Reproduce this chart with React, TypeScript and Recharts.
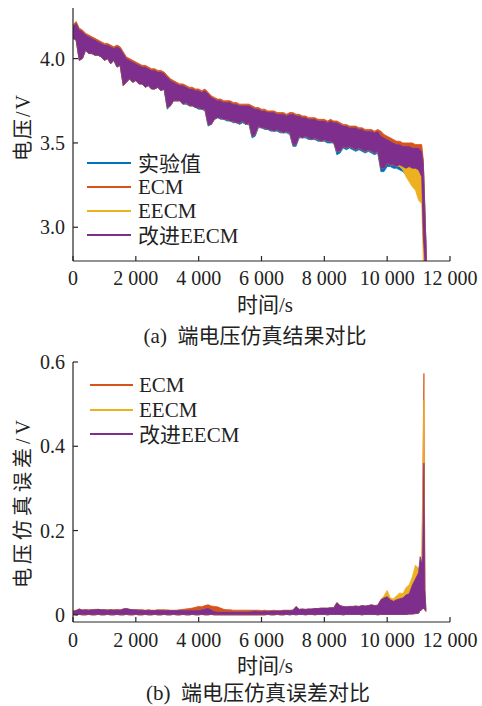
import React from 'react';
import { ComposedChart, Area, XAxis, YAxis } from 'recharts';

// time axis (s) for the terminal voltage plot
const timeS = [
  0, 100, 200, 300, 400, 500, 600, 700, 800, 900,
  1000, 1100, 1200, 1300, 1400, 1500, 1600, 1700, 1800, 1900,
  2000, 2100, 2200, 2300, 2400, 2500, 2600, 2700, 2800, 2900,
  3000, 3100, 3200, 3300, 3400, 3500, 3600, 3700, 3800, 3900,
  4000, 4100, 4200, 4300, 4400, 4500, 4600, 4700, 4800, 4900,
  5000, 5100, 5200, 5300, 5400, 5500, 5600, 5700, 5800, 5900,
  6000, 6100, 6200, 6300, 6400, 6500, 6600, 6700, 6800, 6900,
  7000, 7100, 7200, 7300, 7400, 7500, 7600, 7700, 7800, 7900,
  8000, 8100, 8200, 8300, 8400, 8500, 8600, 8700, 8800, 8900,
  9000, 9100, 9200, 9300, 9400, 9500, 9600, 9700, 9800, 9900,
  10000, 10100, 10200, 10300, 10400, 10500, 10600, 10700, 10800, 10900,
  11000, 11100, 11150, 11200, 11250,
];

// 改进EECM band (upper / lower edge), V
const ieecmHigh = [
  4.19, 4.21, 4.17, 4.16, 4.14, 4.13, 4.12, 4.11, 4.10, 4.09,
  4.08, 4.08, 4.07, 4.06, 4.07, 4.06, 4.03, 4.00, 3.99, 3.98,
  3.97, 3.96, 3.95, 3.95, 3.94, 3.93, 3.93, 3.92, 3.92, 3.91,
  3.89, 3.87, 3.86, 3.85, 3.84, 3.84, 3.83, 3.82, 3.82, 3.81,
  3.81, 3.80, 3.81, 3.79, 3.77, 3.76, 3.75, 3.75, 3.74, 3.74,
  3.74, 3.73, 3.73, 3.72, 3.72, 3.72, 3.72, 3.71, 3.70, 3.70,
  3.69, 3.69, 3.68, 3.68, 3.68, 3.67, 3.67, 3.67, 3.66, 3.67,
  3.67, 3.66, 3.66, 3.65, 3.65, 3.64, 3.64, 3.64, 3.63, 3.63,
  3.63, 3.62, 3.63, 3.62, 3.62, 3.61, 3.60, 3.60, 3.59, 3.59,
  3.59, 3.58, 3.58, 3.57, 3.57, 3.57, 3.56, 3.57, 3.54, 3.53,
  3.52, 3.51, 3.50, 3.49, 3.49, 3.48, 3.48, 3.48, 3.47, 3.47,
  3.47, 3.45, 3.38, 3.10, 2.80,
];
const ieecmLow = [
  4.12, 4.11, 3.99, 4.00, 4.05, 4.03, 4.03, 4.02, 4.02, 4.01,
  3.99, 4.00, 3.97, 3.99, 3.95, 3.96, 3.84, 3.86, 3.88, 3.86,
  3.87, 3.85, 3.85, 3.83, 3.84, 3.82, 3.82, 3.83, 3.81, 3.82,
  3.71, 3.72, 3.75, 3.75, 3.75, 3.73, 3.74, 3.72, 3.72, 3.71,
  3.71, 3.70, 3.70, 3.61, 3.61, 3.64, 3.65, 3.65, 3.64, 3.64,
  3.63, 3.63, 3.62, 3.62, 3.63, 3.61, 3.62, 3.54, 3.55, 3.60,
  3.59, 3.59, 3.58, 3.58, 3.57, 3.58, 3.57, 3.56, 3.57, 3.56,
  3.49, 3.49, 3.54, 3.53, 3.54, 3.53, 3.52, 3.53, 3.52, 3.51,
  3.52, 3.51, 3.51, 3.50, 3.45, 3.45, 3.48, 3.47, 3.48, 3.47,
  3.46, 3.47, 3.46, 3.45, 3.46, 3.45, 3.44, 3.45, 3.35, 3.35,
  3.38, 3.37, 3.37, 3.36, 3.37, 3.36, 3.35, 3.36, 3.35, 3.35,
  3.34, 3.30, 2.95, 2.80, 2.80,
];
// ECM upper edge, V
const ecmHigh = [
  4.20, 4.22, 4.18, 4.17, 4.15, 4.14, 4.13, 4.12, 4.11, 4.10,
  4.09, 4.09, 4.08, 4.07, 4.08, 4.07, 4.04, 4.01, 4.00, 3.99,
  3.98, 3.97, 3.96, 3.96, 3.95, 3.94, 3.94, 3.93, 3.93, 3.92,
  3.90, 3.88, 3.87, 3.86, 3.85, 3.85, 3.84, 3.83, 3.83, 3.82,
  3.82, 3.81, 3.82, 3.80, 3.78, 3.77, 3.76, 3.76, 3.75, 3.75,
  3.75, 3.74, 3.74, 3.73, 3.73, 3.73, 3.73, 3.72, 3.71, 3.71,
  3.70, 3.70, 3.69, 3.69, 3.69, 3.68, 3.68, 3.68, 3.67, 3.68,
  3.68, 3.67, 3.67, 3.66, 3.66, 3.65, 3.65, 3.65, 3.64, 3.64,
  3.64, 3.63, 3.64, 3.63, 3.63, 3.62, 3.61, 3.61, 3.60, 3.60,
  3.60, 3.59, 3.59, 3.58, 3.58, 3.58, 3.57, 3.58, 3.57, 3.55,
  3.54, 3.53, 3.52, 3.51, 3.51, 3.50, 3.50, 3.50, 3.50, 3.49,
  3.49, 3.49, 3.40, 3.10, 2.80,
];
// 实验值 lower edge, V
const expLow = [
  4.12, 4.11, 3.99, 4.00, 4.05, 4.03, 4.03, 4.02, 4.02, 4.01,
  3.99, 4.00, 3.97, 3.99, 3.95, 3.96, 3.84, 3.86, 3.88, 3.86,
  3.87, 3.85, 3.85, 3.83, 3.84, 3.82, 3.82, 3.83, 3.81, 3.82,
  3.70, 3.72, 3.75, 3.75, 3.75, 3.73, 3.73, 3.72, 3.72, 3.71,
  3.70, 3.70, 3.69, 3.60, 3.61, 3.64, 3.65, 3.64, 3.64, 3.63,
  3.63, 3.62, 3.62, 3.61, 3.62, 3.61, 3.61, 3.53, 3.54, 3.59,
  3.59, 3.58, 3.58, 3.57, 3.57, 3.57, 3.56, 3.56, 3.56, 3.55,
  3.48, 3.48, 3.53, 3.53, 3.53, 3.52, 3.52, 3.52, 3.51, 3.51,
  3.51, 3.50, 3.50, 3.50, 3.43, 3.44, 3.47, 3.46, 3.47, 3.46,
  3.45, 3.46, 3.45, 3.44, 3.45, 3.44, 3.43, 3.44, 3.33, 3.33,
  3.36, 3.36, 3.35, 3.35, 3.34, 3.33, 3.31, 3.30, 3.27, 3.26,
  3.23, 3.20, 3.05, 3.05, 2.80,
];
// EECM lower edge, V
const eecmLow = [
  4.12, 4.11, 3.99, 4.00, 4.05, 4.03, 4.03, 4.02, 4.02, 4.01,
  3.99, 4.00, 3.97, 3.99, 3.95, 3.96, 3.84, 3.86, 3.88, 3.86,
  3.87, 3.85, 3.85, 3.83, 3.84, 3.82, 3.82, 3.83, 3.81, 3.82,
  3.71, 3.72, 3.75, 3.75, 3.75, 3.73, 3.74, 3.72, 3.72, 3.71,
  3.71, 3.70, 3.70, 3.61, 3.61, 3.64, 3.65, 3.65, 3.64, 3.64,
  3.63, 3.63, 3.62, 3.62, 3.63, 3.61, 3.62, 3.54, 3.55, 3.60,
  3.59, 3.59, 3.58, 3.58, 3.57, 3.58, 3.57, 3.56, 3.57, 3.56,
  3.49, 3.49, 3.54, 3.53, 3.54, 3.53, 3.52, 3.53, 3.52, 3.51,
  3.52, 3.51, 3.51, 3.50, 3.45, 3.45, 3.48, 3.47, 3.48, 3.47,
  3.46, 3.47, 3.46, 3.45, 3.46, 3.45, 3.44, 3.45, 3.35, 3.35,
  3.38, 3.37, 3.37, 3.36, 3.36, 3.34, 3.30, 3.27, 3.24, 3.22,
  3.16, 3.14, 2.80, 2.80, 2.80,
];

// time axis (s) for the error plot
const errTimeS = [
  0, 100, 200, 300, 400, 500, 600, 700, 800, 900,
  1000, 1100, 1200, 1300, 1400, 1500, 1600, 1700, 1800, 1900,
  2000, 2100, 2200, 2300, 2400, 2500, 2600, 2700, 2800, 2900,
  3000, 3100, 3200, 3300, 3400, 3500, 3600, 3700, 3800, 3900,
  4000, 4100, 4200, 4300, 4400, 4500, 4600, 4700, 4800, 4900,
  5000, 5100, 5200, 5300, 5400, 5500, 5600, 5700, 5800, 5900,
  6000, 6100, 6200, 6300, 6400, 6500, 6600, 6700, 6800, 6900,
  7000, 7100, 7200, 7300, 7400, 7500, 7600, 7700, 7800, 7900,
  8000, 8100, 8200, 8300, 8400, 8500, 8600, 8700, 8800, 8900,
  9000, 9100, 9200, 9300, 9400, 9500, 9600, 9700, 9800, 9900,
  10000, 10100, 10200, 10300, 10400, 10500, 10600, 10700, 10800, 10900,
  11000, 11050, 11100, 11130, 11170, 11200, 11235,
];
const ieecmErrHigh = [
  0.008, 0.010, 0.014, 0.011, 0.012, 0.011, 0.012, 0.012, 0.013, 0.012,
  0.012, 0.011, 0.012, 0.011, 0.012, 0.011, 0.014, 0.015, 0.013, 0.012,
  0.012, 0.011, 0.011, 0.010, 0.011, 0.010, 0.010, 0.011, 0.010, 0.010,
  0.011, 0.010, 0.010, 0.010, 0.011, 0.010, 0.010, 0.011, 0.010, 0.011,
  0.011, 0.012, 0.014, 0.016, 0.012, 0.008, 0.007, 0.007, 0.007, 0.007,
  0.007, 0.007, 0.007, 0.007, 0.007, 0.007, 0.007, 0.008, 0.009, 0.008,
  0.008, 0.009, 0.008, 0.009, 0.009, 0.009, 0.009, 0.010, 0.010, 0.010,
  0.011, 0.020, 0.013, 0.014, 0.013, 0.014, 0.014, 0.015, 0.015, 0.016,
  0.016, 0.016, 0.017, 0.017, 0.029, 0.022, 0.020, 0.019, 0.020, 0.020,
  0.021, 0.020, 0.022, 0.021, 0.022, 0.024, 0.022, 0.023, 0.036, 0.040,
  0.043, 0.036, 0.032, 0.036, 0.038, 0.040, 0.047, 0.050, 0.070, 0.085,
  0.100, 0.138, 0.120, 0.140, 0.360, 0.060, 0.010,
];
const ieecmErrLow = [
  0.002, 0.000, 0.001, 0.000, 0.000, 0.001, 0.000, 0.000, 0.001, 0.000,
  0.000, 0.001, 0.000, 0.000, 0.001, 0.000, 0.000, 0.001, 0.000, 0.000,
  0.001, 0.000, 0.000, 0.001, 0.000, 0.000, 0.001, 0.000, 0.000, 0.001,
  0.000, 0.000, 0.001, 0.000, 0.000, 0.001, 0.000, 0.000, 0.001, 0.000,
  0.000, 0.001, 0.000, 0.000, 0.001, 0.000, 0.000, 0.000, 0.000, 0.000,
  0.000, 0.000, 0.000, 0.000, 0.000, 0.000, 0.000, 0.000, 0.000, 0.000,
  0.000, 0.000, 0.001, 0.000, 0.000, 0.001, 0.000, 0.000, 0.001, 0.000,
  0.001, 0.000, 0.001, 0.001, 0.000, 0.001, 0.001, 0.000, 0.001, 0.001,
  0.001, 0.000, 0.001, 0.001, 0.001, 0.001, 0.000, 0.001, 0.001, 0.001,
  0.001, 0.001, 0.000, 0.001, 0.001, 0.001, 0.001, 0.000, 0.001, 0.001,
  0.001, 0.001, 0.001, 0.001, 0.001, 0.001, 0.001, 0.002, 0.002, 0.003,
  0.004, 0.010, 0.012, 0.015, 0.015, 0.012, 0.008,
];
const ecmErrHigh = [
  0.009, 0.011, 0.013, 0.012, 0.012, 0.012, 0.012, 0.013, 0.013, 0.012,
  0.012, 0.012, 0.012, 0.012, 0.012, 0.012, 0.013, 0.014, 0.013, 0.012,
  0.012, 0.012, 0.012, 0.011, 0.012, 0.011, 0.011, 0.012, 0.012, 0.012,
  0.011, 0.011, 0.011, 0.011, 0.012, 0.013, 0.014, 0.015, 0.016, 0.018,
  0.020, 0.019, 0.022, 0.024, 0.021, 0.020, 0.019, 0.016, 0.013, 0.012,
  0.012, 0.011, 0.011, 0.011, 0.011, 0.011, 0.011, 0.011, 0.011, 0.011,
  0.010, 0.011, 0.010, 0.010, 0.011, 0.010, 0.010, 0.011, 0.011, 0.011,
  0.011, 0.012, 0.012, 0.012, 0.012, 0.013, 0.013, 0.013, 0.014, 0.014,
  0.014, 0.014, 0.015, 0.015, 0.020, 0.018, 0.016, 0.016, 0.016, 0.017,
  0.017, 0.017, 0.018, 0.018, 0.018, 0.019, 0.019, 0.019, 0.025, 0.028,
  0.030, 0.030, 0.028, 0.030, 0.031, 0.032, 0.035, 0.040, 0.050, 0.060,
  0.070, 0.080, 0.090, 0.300, 0.573, 0.060, 0.010,
];
const eecmErrHigh = [
  0.008, 0.010, 0.014, 0.011, 0.012, 0.011, 0.012, 0.012, 0.013, 0.012,
  0.012, 0.011, 0.012, 0.011, 0.012, 0.011, 0.014, 0.015, 0.013, 0.012,
  0.012, 0.011, 0.011, 0.010, 0.011, 0.010, 0.010, 0.011, 0.010, 0.010,
  0.011, 0.010, 0.010, 0.010, 0.011, 0.010, 0.010, 0.011, 0.010, 0.011,
  0.011, 0.012, 0.014, 0.016, 0.012, 0.008, 0.007, 0.007, 0.007, 0.007,
  0.007, 0.007, 0.007, 0.007, 0.007, 0.007, 0.007, 0.008, 0.009, 0.008,
  0.008, 0.009, 0.008, 0.009, 0.009, 0.009, 0.009, 0.010, 0.010, 0.010,
  0.011, 0.020, 0.013, 0.014, 0.013, 0.014, 0.014, 0.015, 0.015, 0.016,
  0.016, 0.016, 0.017, 0.017, 0.029, 0.022, 0.020, 0.019, 0.020, 0.020,
  0.021, 0.020, 0.022, 0.021, 0.022, 0.024, 0.022, 0.023, 0.036, 0.045,
  0.058, 0.040, 0.038, 0.045, 0.052, 0.050, 0.065, 0.071, 0.090, 0.118,
  0.110, 0.120, 0.125, 0.250, 0.510, 0.060, 0.010,
];

const xTicks = [0, 2000, 4000, 6000, 8000, 10000, 12000];
const voltTicks = [3.0, 3.5, 4.0];
const errTicks = [0, 0.2, 0.4, 0.6];

const C_EXP = '#0072BD';
const C_ECM = '#D95319';
const C_EECM = '#EDB120';
const C_IEECM = '#7E2F8E';

const LATIN = 'Liberation Serif';
const CJK = 'Noto Sans CJK SC';
const INK = '#222';

const voltRows = timeS.map((t, i) => ({
  t,
  exp: [expLow[i], ieecmHigh[i]],
  ecm: [ieecmLow[i], ecmHigh[i]],
  eecm: [eecmLow[i], ieecmHigh[i]],
  ieecm: [ieecmLow[i], ieecmHigh[i]],
}));

const errRows = errTimeS.map((t, i) => ({
  t,
  ecm: [ieecmErrLow[i], ecmErrHigh[i]],
  eecm: [ieecmErrLow[i], eecmErrHigh[i]],
  ieecm: [ieecmErrLow[i], ieecmErrHigh[i]],
}));

const fmtTime = (v: number) => (v === 0 ? '0' : `${Math.floor(v / 1000)} ${String(v % 1000).padStart(3, '0')}`);
const axisStyle = { stroke: '#262626', strokeWidth: 1.2 };

const XTick = (p: any) => (
  <text x={p.x} y={p.y} dy="0.71em" textAnchor="middle" fontSize={20} fontFamily={LATIN} fill={INK}>
    {fmtTime(p.payload.value)}
  </text>
);
const makeYTick = (fmt: (v: number) => string) => (p: any) => (
  <text x={p.x} y={p.y} dy="0.35em" textAnchor="end" fontSize={20} fontFamily={LATIN} fill={INK}>
    {fmt(p.payload.value)}
  </text>
);
const VoltTick = makeYTick(v => v.toFixed(1));
const ErrTick = makeYTick(v => (v === 0 ? '0' : v.toFixed(1)));

// splits a label into CJK / Latin runs, each with its own font
const Mixed: React.FC<{ text: string }> = ({ text }) => (
  <>
    {text.split(/([\u4e00-\u9fff]+)/).filter(s => s.length > 0).map((s, i) => (
      <span key={i} style={{ fontFamily: /[\u4e00-\u9fff]/.test(s) ? CJK : LATIN }}>{s}</span>
    ))}
  </>
);

const Txt: React.FC<{ x: number; y: number; size?: number; rotate?: boolean; spacing?: number; text: string }> = ({ x, y, size = 20, rotate, spacing = 0, text }) => (
  <div
    style={{
      position: 'absolute', left: x, top: y, whiteSpace: 'pre', fontSize: size, color: INK,
      letterSpacing: spacing, lineHeight: 1,
      transform: `translate(-50%, -50%)${rotate ? ' rotate(-90deg)' : ''}`,
    }}
  >
    <Mixed text={text} />
  </div>
);

const LegendBox: React.FC<{ x0: number; x1: number; tx: number; rows: { y: number; label: string; color: string }[] }> = ({ x0, x1, tx, rows }) => (
  <>
    {rows.map(r => (
      <React.Fragment key={r.label}>
        <div style={{ position: 'absolute', left: x0, top: r.y - 1, width: x1 - x0, height: 2, background: r.color }} />
        <div style={{ position: 'absolute', left: tx, top: r.y, transform: 'translateY(-50%)', fontSize: 21, color: INK, lineHeight: 1, whiteSpace: 'nowrap' }}>
          <Mixed text={r.label} />
        </div>
      </React.Fragment>
    ))}
  </>
);

const band = (key: string, color: string) => (
  <Area key={key} type="linear" dataKey={key} stroke={color} strokeWidth={0.8} fill={color} fillOpacity={1} isAnimationActive={false} dot={false} activeDot={false} />
);

export default function App() {
  return (
    <div style={{ position: 'absolute', left: 0, top: 0, width: 482, height: 706, background: '#fff', overflow: 'hidden' }}>
      <div style={{ position: 'absolute', left: 0, top: 0 }}>
        <ComposedChart width={482} height={345} data={voltRows} margin={{ top: 8, right: 32, left: 13, bottom: 54 }}>
          <XAxis dataKey="t" type="number" domain={[0, 12000]} ticks={xTicks} allowDataOverflow
            tick={XTick} axisLine={axisStyle} tickLine={axisStyle} tickSize={-5} tickMargin={15} height={30} interval={0} />
          <YAxis type="number" domain={[2.8, 4.3]} ticks={voltTicks} allowDataOverflow
            tick={VoltTick} axisLine={axisStyle} tickLine={axisStyle} tickSize={-5} tickMargin={13} width={60} interval={0} />
          {band('exp', C_EXP)}
          {band('ecm', C_ECM)}
          {band('eecm', C_EECM)}
          {band('ieecm', C_IEECM)}
        </ComposedChart>
      </div>
      <div style={{ position: 'absolute', left: 0, top: 350 }}>
        <ComposedChart width={482} height={356} data={errRows} margin={{ top: 12, right: 32, left: 13, bottom: 54 }}>
          <XAxis dataKey="t" type="number" domain={[0, 12000]} ticks={xTicks} allowDataOverflow
            tick={XTick} axisLine={axisStyle} tickLine={axisStyle} tickSize={-5} tickMargin={16} height={30} interval={0} />
          <YAxis type="number" domain={[-0.017, 0.6]} ticks={errTicks} allowDataOverflow
            tick={ErrTick} axisLine={axisStyle} tickLine={axisStyle} tickSize={-5} tickMargin={13} width={60} interval={0} />
          {band('ecm', C_ECM)}
          {band('eecm', C_EECM)}
          {band('ieecm', C_IEECM)}
        </ComposedChart>
      </div>

      <LegendBox x0={87} x1={131} tx={138} rows={[
        { y: 163, label: '实验值', color: C_EXP },
        { y: 187, label: 'ECM', color: C_ECM },
        { y: 211, label: 'EECM', color: C_EECM },
        { y: 235, label: '改进EECM', color: C_IEECM },
      ]} />
      <LegendBox x0={90} x1={133} tx={139} rows={[
        { y: 385, label: 'ECM', color: C_ECM },
        { y: 410, label: 'EECM', color: C_EECM },
        { y: 434, label: '改进EECM', color: C_IEECM },
      ]} />

      <Txt x={22} y={127} rotate spacing={2} text="电压/V" />
      <Txt x={265} y={304} size={21} text="时间/s" />
      <Txt x={255} y={335} size={21} text="(a)  端电压仿真结果对比" />

      <Txt x={22} y={502} rotate spacing={4} text="电压仿真误差/V" />
      <Txt x={265} y={665} size={21} text="时间/s" />
      <Txt x={258} y={692} size={21} text="(b)  端电压仿真误差对比" />
    </div>
  );
}
